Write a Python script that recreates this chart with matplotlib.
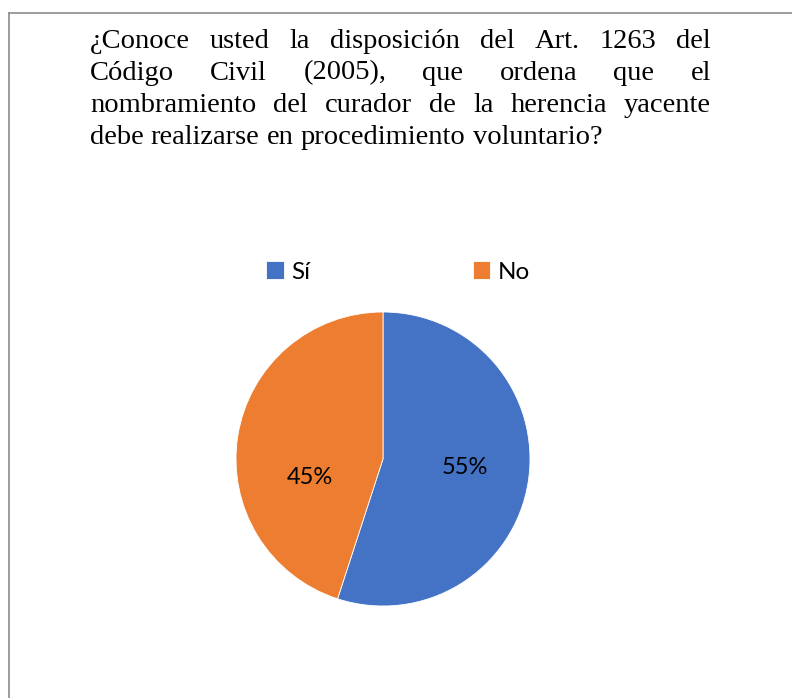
import matplotlib
matplotlib.use("Agg")
import matplotlib.pyplot as plt
from matplotlib.lines import Line2D
import numpy as np

# data
labels = ["Sí", "No"]
values = [55, 45]
colors = ["#4472C4", "#ED7D31"]
title_lines = [
    "¿Conoce usted la disposición del Art. 1263 del",
    "Código Civil (2005), que ordena que el",
    "nombramiento del curador de la herencia yacente",
    "debe realizarse en procedimiento voluntario?",
]

W, H = 792, 698
fig = plt.figure(figsize=(W / 100, H / 100), dpi=100)
fig.patch.set_facecolor("white")

# chart border (top and left visible)
fig.add_artist(Line2D([9 / W, 1], [1 - 12.5 / H] * 2, color="#8c8c8c", lw=1.2))
fig.add_artist(Line2D([9 / W] * 2, [0, 1 - 12.5 / H], color="#8c8c8c", lw=1.2))

# justified title, drawn word by word
renderer = fig.canvas.get_renderer()
x_left, x_right = 90, 711
baselines = [47.5, 79.5, 111.5, 143.5]
title_font = dict(family="Liberation Serif", fontsize=20.5, color="black")
for i, line in enumerate(title_lines):
    words = line.split()
    texts = [fig.text(0, 1 - baselines[i] / H, w, va="baseline", ha="left", **title_font)
             for w in words]
    widths = [t.get_window_extent(renderer).width for t in texts]
    if i < len(title_lines) - 1:
        gap = (x_right - x_left - sum(widths)) / (len(words) - 1)
    else:
        space = fig.text(0, 0, "a a", **title_font)
        a_only = fig.text(0, 0, "aa", **title_font)
        gap = space.get_window_extent(renderer).width - a_only.get_window_extent(renderer).width
        space.remove()
        a_only.remove()
    x = x_left
    for t, w in zip(texts, widths):
        t.set_x(x / W)
        x += w + gap

# pie
r = 147
cx, cy = 383, 459
ax = fig.add_axes([(cx - r) / W, 1 - (cy + r) / H, 2 * r / W, 2 * r / H])
wedges, _, autotexts = ax.pie(
    values,
    colors=colors,
    startangle=90,
    counterclock=False,
    autopct="%1.0f%%",
    pctdistance=0.53,
    wedgeprops=dict(edgecolor="white", linewidth=0.6),
    textprops=dict(family="Lato", fontsize=17, color="black"),
)
# excel-like label placement: (radius, angle shift from wedge middle)
label_place = [(0.56, 3.4), (0.51, 23.0)]
for w, t, (rr, shift) in zip(wedges, autotexts, label_place):
    ang = np.deg2rad((w.theta1 + w.theta2) / 2 + shift)
    t.set_position((rr * np.cos(ang), rr * np.sin(ang)))
ax.set_xlim(-1, 1)
ax.set_ylim(-1, 1)
ax.set_aspect("equal")
ax.axis("off")

# legend
fig.legend(
    wedges,
    labels,
    loc="center",
    bbox_to_anchor=(398 / W, 1 - 272 / H),
    ncol=2,
    frameon=False,
    prop=dict(family="Lato", size=17.5),
    handlelength=0.72,
    handleheight=0.72,
    handletextpad=0.3,
    columnspacing=6.7,
)

fig.savefig("out.png", dpi=100)
